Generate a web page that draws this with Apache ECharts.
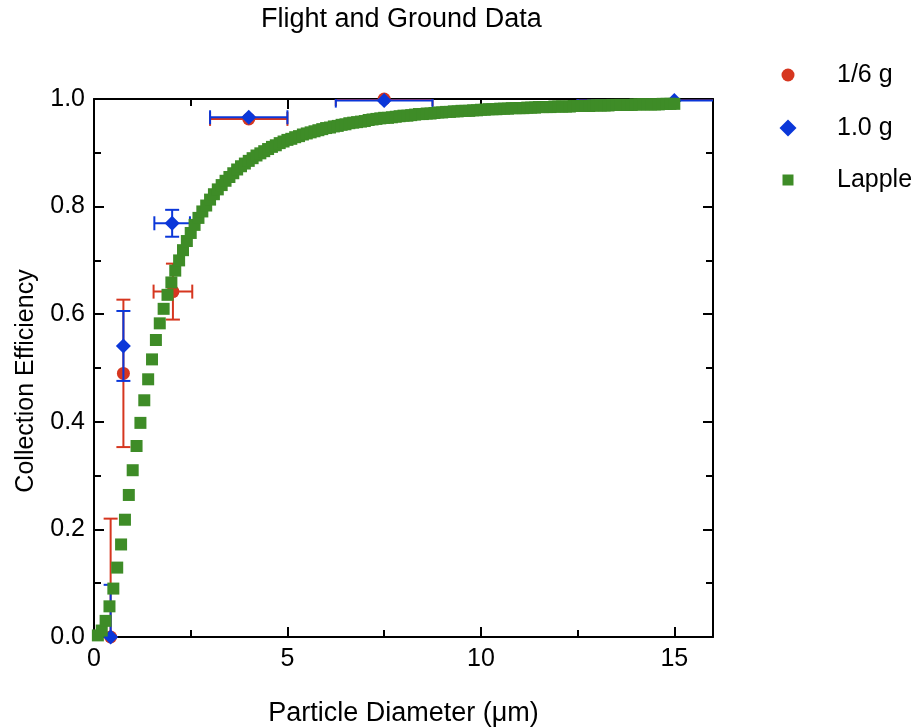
<!DOCTYPE html>
<html>
<head>
<meta charset="utf-8">
<script src="https://cdn.jsdelivr.net/npm/echarts@6/dist/echarts.min.js"></script>
<style>
  html, body { margin: 0; padding: 0; background: #fff; }
  #chart { width: 918px; height: 728px; }
</style>
</head>
<body>
<div id="chart"></div>
<script>
// measured points, x = particle diameter (um), y = collection efficiency
var redX = [0.43, 0.76, 2.04, 4.0, 7.5, 15.0];
var redY = [0.0, 0.49, 0.642, 0.963, 1.0, 1.001];
var redXErr = [0, 0, 0.5, 1.0, 1.25, 2.5];
var redYErr = [0.22, 0.137, 0.052, 0, 0, 0];

var blueX = [0.43, 0.76, 2.02, 4.0, 7.5, 15.0];
var blueY = [0.0, 0.541, 0.769, 0.966, 0.997, 0.997];
var blueXErr = [0, 0, 0.46, 1.0, 1.25, 2.5];
var blueYErr = [0.097, 0.065, 0.025, 0, 0, 0];

var lappleD = [
  0.1, 0.2, 0.3, 0.4, 0.5, 0.6, 0.7, 0.8, 0.9, 1.0,
  1.1, 1.2, 1.3, 1.4, 1.5, 1.6, 1.7, 1.8, 1.9, 2.0,
  2.1, 2.2, 2.3, 2.4, 2.5, 2.6, 2.7, 2.8, 2.9, 3.0,
  3.1, 3.2, 3.3, 3.4, 3.5, 3.6, 3.7, 3.8, 3.9, 4.0,
  4.1, 4.2, 4.3, 4.4, 4.5, 4.6, 4.7, 4.8, 4.9, 5.0,
  5.1, 5.2, 5.3, 5.4, 5.5, 5.6, 5.7, 5.8, 5.9, 6.0,
  6.1, 6.2, 6.3, 6.4, 6.5, 6.6, 6.7, 6.8, 6.9, 7.0,
  7.1, 7.2, 7.3, 7.4, 7.5, 7.6, 7.7, 7.8, 7.9, 8.0,
  8.1, 8.2, 8.3, 8.4, 8.5, 8.6, 8.7, 8.8, 8.9, 9.0,
  9.1, 9.2, 9.3, 9.4, 9.5, 9.6, 9.7, 9.8, 9.9, 10.0,
  10.1, 10.2, 10.3, 10.4, 10.5, 10.6, 10.7, 10.8, 10.9, 11.0,
  11.1, 11.2, 11.3, 11.4, 11.5, 11.6, 11.7, 11.8, 11.9, 12.0,
  12.1, 12.2, 12.3, 12.4, 12.5, 12.6, 12.7, 12.8, 12.9, 13.0,
  13.1, 13.2, 13.3, 13.4, 13.5, 13.6, 13.7, 13.8, 13.9, 14.0,
  14.1, 14.2, 14.3, 14.4, 14.5, 14.6, 14.7, 14.8, 14.9, 15.0
];
var lappleEff = [
  0.003, 0.012, 0.030, 0.057, 0.090, 0.129, 0.172, 0.218, 0.264, 0.310,
  0.355, 0.398, 0.440, 0.479, 0.516, 0.552, 0.583, 0.610, 0.636, 0.659,
  0.681, 0.700, 0.719, 0.736, 0.751, 0.766, 0.779, 0.791, 0.802, 0.813,
  0.823, 0.832, 0.840, 0.848, 0.855, 0.862, 0.869, 0.875, 0.880, 0.885,
  0.890, 0.895, 0.899, 0.903, 0.907, 0.911, 0.914, 0.918, 0.921, 0.924,
  0.926, 0.929, 0.931, 0.934, 0.936, 0.938, 0.940, 0.942, 0.944, 0.946,
  0.947, 0.949, 0.950, 0.952, 0.953, 0.955, 0.956, 0.957, 0.958, 0.959,
  0.961, 0.962, 0.963, 0.964, 0.965, 0.965, 0.966, 0.967, 0.968, 0.969,
  0.969, 0.970, 0.971, 0.972, 0.972, 0.973, 0.973, 0.974, 0.975, 0.975,
  0.976, 0.976, 0.977, 0.977, 0.978, 0.978, 0.978, 0.979, 0.979, 0.980,
  0.980, 0.981, 0.981, 0.981, 0.982, 0.982, 0.982, 0.983, 0.983, 0.983,
  0.983, 0.984, 0.984, 0.984, 0.985, 0.985, 0.985, 0.985, 0.986, 0.986,
  0.986, 0.986, 0.986, 0.987, 0.987, 0.987, 0.987, 0.987, 0.988, 0.988,
  0.988, 0.988, 0.988, 0.989, 0.989, 0.989, 0.989, 0.989, 0.989, 0.990,
  0.990, 0.990, 0.990, 0.990, 0.990, 0.990, 0.991, 0.991, 0.991, 0.991
];

var xMajorTicks = [0, 5, 10, 15];
var xMinorTicks = [2.5, 7.5, 12.5];
var xTickLabels = ['0', '5', '10', '15'];
var yTickLabels = ['0.0', '0.2', '0.4', '0.6', '0.8', '1.0'];

var RED = '#d6361f';
var BLUE = '#0b37d9';
var GREEN = '#3e8c27';
var FONT = '"Liberation Sans", Arial, Helvetica, sans-serif';

function zip(a, b) {
  return a.map(function (v, i) { return [v, b[i]]; });
}

function errorBars(name, xs, ys, xErr, yErr, color, z) {
  return {
    type: 'custom',
    name: name,
    silent: true,
    clip: true,
    z: z,
    data: xs.map(function (x, i) { return [x, ys[i], xErr[i], yErr[i]]; }),
    encode: { x: 0, y: 1 },
    renderItem: function (params, api) {
      var x = api.value(0), y = api.value(1);
      var ex = api.value(2), ey = api.value(3);
      var style = { stroke: color, lineWidth: 2 };
      var kids = [];
      var cap = 7;
      if (ex > 0) {
        var l = api.coord([x - ex, y]), r = api.coord([x + ex, y]);
        kids.push({ type: 'line', shape: { x1: l[0], y1: l[1], x2: r[0], y2: r[1] }, style: style });
        kids.push({ type: 'line', shape: { x1: l[0], y1: l[1] - cap, x2: l[0], y2: l[1] + cap }, style: style });
        kids.push({ type: 'line', shape: { x1: r[0], y1: r[1] - cap, x2: r[0], y2: r[1] + cap }, style: style });
      }
      if (ey > 0) {
        var t = api.coord([x, y + ey]), b = api.coord([x, y - ey]);
        kids.push({ type: 'line', shape: { x1: t[0], y1: t[1], x2: b[0], y2: b[1] }, style: style });
        kids.push({ type: 'line', shape: { x1: t[0] - cap, y1: t[1], x2: t[0] + cap, y2: t[1] }, style: style });
        kids.push({ type: 'line', shape: { x1: b[0] - cap, y1: b[1], x2: b[0] + cap, y2: b[1] }, style: style });
      }
      return { type: 'group', children: kids };
    }
  };
}

function xAxisDef(pos, ticks, len, showLine, labels) {
  return {
    type: 'value', min: 0, max: 16, position: pos,
    axisLine: { show: showLine, lineStyle: { color: '#000', width: 2 } },
    axisTick: { show: true, inside: true, length: len, customValues: ticks, lineStyle: { color: '#000', width: 2 } },
    axisLabel: labels ? {
      show: true, customValues: xMajorTicks, margin: 10,
      color: '#000', fontSize: 25, fontFamily: FONT,
      formatter: function (v) { return xTickLabels[xMajorTicks.indexOf(v)]; }
    } : { show: false },
    splitLine: { show: false }
  };
}

function yAxisDef(pos, labels) {
  return {
    type: 'value', min: 0, max: 1, interval: 0.2, position: pos,
    axisLine: { show: true, onZero: false, lineStyle: { color: '#000', width: 2 } },
    axisTick: { show: true, inside: true, length: 10, lineStyle: { color: '#000', width: 2 } },
    minorTick: { show: true, splitNumber: 2, length: 7, lineStyle: { color: '#000', width: 2 } },
    axisLabel: labels ? {
      show: true, margin: 9, color: '#000', fontSize: 25, fontFamily: FONT,
      formatter: function (v) { return yTickLabels[Math.round(v / 0.2)]; }
    } : { show: false },
    splitLine: { show: false }
  };
}

function legendItem(name, top, left, size, pad) {
  return {
    data: [name], orient: 'vertical', left: left, top: top, padding: 0,
    itemWidth: size, itemHeight: size, selectedMode: false,
    textStyle: { color: '#000', fontSize: 25, fontFamily: FONT, lineHeight: 30, padding: [0, 0, 0, pad] }
  };
}

var chart = echarts.init(document.getElementById('chart'));
var xMain = xAxisDef('bottom', xMajorTicks, 10, true, true);
xMain.name = 'Particle Diameter (\u03bcm)';
xMain.nameLocation = 'middle';
xMain.nameGap = 63;
xMain.nameTextStyle = { color: '#000', fontSize: 27, fontFamily: FONT };
var yMain = yAxisDef('left', true);
yMain.name = 'Collection Efficiency';
yMain.nameLocation = 'middle';
yMain.nameGap = 55;
yMain.nameTextStyle = { color: '#000', fontSize: 25, fontFamily: FONT, padding: [0, 26, 0, 0] };

chart.setOption({
  animation: false,
  title: {
    text: 'Flight and Ground Data', left: 261, top: 6, padding: 0,
    textStyle: { color: '#000', fontSize: 27, fontWeight: 'normal', fontFamily: FONT }
  },
  legend: [
    legendItem('1/6 g', 60, 781.5, 13, 37.5),
    legendItem('1.0 g', 113, 779.5, 17, 35.5),
    legendItem('Lapple', 165, 782.5, 11, 38.5)
  ],
  grid: { left: 94, right: 205, top: 99, bottom: 91, containLabel: false, outerBoundsMode: 'none' },
  xAxis: [
    xMain,
    xAxisDef('bottom', xMinorTicks, 7, false, false),
    xAxisDef('top', xMajorTicks, 10, true, false),
    xAxisDef('top', xMinorTicks, 7, false, false)
  ],
  yAxis: [yMain, yAxisDef('right', false)],
  series: [
    errorBars('1/6 g error', redX, redY, redXErr, redYErr, RED, 2),
    { type: 'scatter', name: '1/6 g', symbol: 'circle', symbolSize: 13, z: 3,
      itemStyle: { color: RED, opacity: 1 }, data: zip(redX, redY) },
    errorBars('1.0 g error', blueX, blueY, blueXErr, blueYErr, BLUE, 4),
    { type: 'scatter', name: '1.0 g', symbol: 'diamond', symbolSize: 15, z: 5,
      itemStyle: { color: BLUE, opacity: 1 }, data: zip(blueX, blueY) },
    { type: 'scatter', name: 'Lapple', symbol: 'rect', symbolSize: 12, z: 6,
      itemStyle: { color: GREEN, opacity: 1 }, data: zip(lappleD, lappleEff) }
  ]
});
</script>
</body>
</html>
